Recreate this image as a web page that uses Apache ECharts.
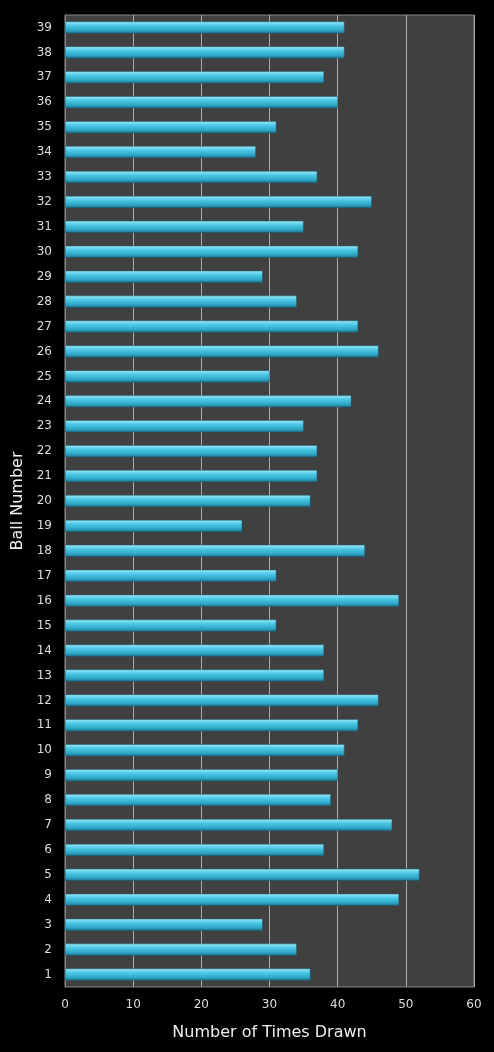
<!DOCTYPE html>
<html>
<head>
<meta charset="utf-8">
<script src="https://cdn.jsdelivr.net/npm/echarts@6/dist/echarts.min.js"></script>
<style>
    html, body { margin: 0; padding: 0; background: #000; }
    #chart { width: 494px; height: 1052px; }
</style>
</head>
<body>
<div id="chart"></div>
<script>
// 球号 1..39
var ballNumbers = [];
for (var i = 1; i <= 39; i++) ballNumbers.push(String(i));

// 每个号码被抽中的次数
var timesDrawn = [36, 34, 29, 49, 52, 38, 48, 39, 40, 41,
                  43, 46, 38, 38, 31, 49, 31, 44, 26, 36,
                  37, 37, 35, 42, 30, 46, 43, 34, 29, 43,
                  35, 45, 37, 28, 31, 40, 38, 41, 41];

var xTicks = [0, 10, 20, 30, 40, 50, 60];

var chart = echarts.init(document.getElementById('chart'));

var option = {
    backgroundColor: '#000',
    animation: false,
    grid: {
        left: 65, right: 20, top: 15, bottom: 65,
        show: true,
        backgroundColor: '#404040',
        borderColor: '#888',
        borderWidth: 1
    },
    xAxis: {
        type: 'value',
        min: xTicks[0],
        max: xTicks[xTicks.length - 1],
        interval: 10,
        name: 'Number of Times Drawn',
        nameLocation: 'middle',
        nameGap: 38,
        nameTextStyle: { color: '#eee', fontSize: 16, fontFamily: 'DejaVu Sans' },
        axisLine: { show: false },
        axisTick: { show: false },
        axisLabel: { color: '#ddd', fontSize: 12, fontFamily: 'DejaVu Sans', margin: 12 },
        splitLine: { lineStyle: { color: '#aaa', width: 1 } }
    },
    yAxis: {
        type: 'category',
        data: ballNumbers,
        name: 'Ball Number',
        nameLocation: 'middle',
        nameGap: 34,
        nameTextStyle: { color: '#eee', fontSize: 16, fontFamily: 'DejaVu Sans' },
        axisLine: { lineStyle: { color: '#888' } },
        axisTick: { show: false },
        axisLabel: { color: '#ddd', fontSize: 12, fontFamily: 'DejaVu Sans', margin: 13 }
    },
    series: [{
        type: 'bar',
        data: timesDrawn,
        barWidth: 12,
        itemStyle: {
            color: new echarts.graphic.LinearGradient(0, 0, 0, 1, [
                { offset: 0, color: '#9ee9f7' },
                { offset: 0.35, color: '#4cc8e6' },
                { offset: 0.75, color: '#2fa6c6' },
                { offset: 1, color: '#1d6f88' }
            ]),
            borderColor: '#1a5f73',
            borderWidth: 0.5
        }
    }]
};

chart.setOption(option);
</script>
</body>
</html>
